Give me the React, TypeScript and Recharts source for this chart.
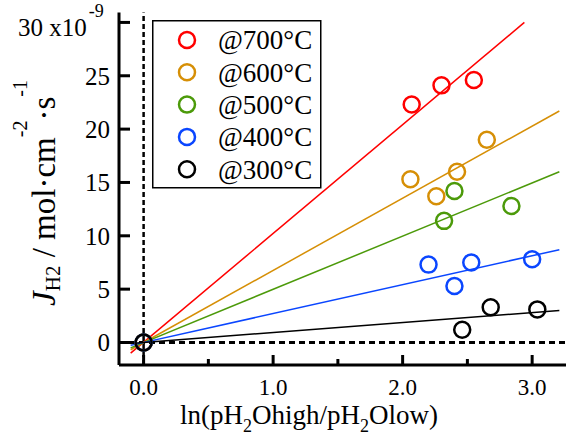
import {
  ComposedChart,
  XAxis,
  YAxis,
  Line,
  Scatter,
  ReferenceLine,
  Legend,
} from "recharts";

const FONT = "'Liberation Serif', 'Times New Roman', 'DejaVu Serif', serif";
const txt = { fontFamily: FONT };

const seriesNames = ["@700°C", "@600°C", "@500°C", "@400°C", "@300°C"];
const seriesColors = ["#ff0000", "#d68f06", "#4c9a0a", "#0a46ff", "#000000"];

// measured points, x = ln(pH2Ohigh/pH2Olow), y = J_H2 (x10^-9)
const x700 = [0, 2.07, 2.3, 2.55];
const y700 = [0, 22.3, 24.1, 24.6];
const x600 = [0, 2.06, 2.26, 2.42, 2.65];
const y600 = [0, 15.3, 13.7, 16.0, 19.0];
const x500 = [0, 2.32, 2.4, 2.84];
const y500 = [0, 11.4, 14.2, 12.8];
const x400 = [0, 2.2, 2.4, 2.53, 3.0];
const y400 = [0, 7.3, 5.3, 7.5, 7.8];
const x300 = [0, 2.46, 2.68, 3.04];
const y300 = [0, 1.2, 3.3, 3.1];

// fitted lines, start and end points
const fitStartX = [-0.1, -0.1, -0.1, -0.1, -0.1];
const fitStartY = [-1.0, -0.68, -0.5, -0.27, -0.09];
const fitEndX = [2.94, 3.21, 3.21, 3.21, 3.21];
const fitEndY = [30.0, 21.7, 16.0, 8.7, 3.0];

const xTicks = [0, 0.5, 1, 1.5, 2, 2.5, 3];
const yTicks = [0, 5, 10, 15, 20, 25, 30];

const pointsX = [x700, x600, x500, x400, x300];
const pointsY = [y700, y600, y500, y400, y300];

const scatterData = pointsX.map((xs, i) =>
  xs.map((x, j) => ({ x, y: pointsY[i][j] }))
);
const fitData = fitStartX.map((_, i) => [
  { x: fitStartX[i], y: fitStartY[i] },
  { x: fitEndX[i], y: fitEndY[i] },
]);

const BottomTick = (props: any) => {
  const { x, y, payload } = props;
  const major = Number.isInteger(payload.value);
  return (
    <g>
      <line x1={x} x2={x} y1={y} y2={y - (major ? 10 : 6)} stroke="#000" strokeWidth={3} />
      {major && (
        <text x={x} y={y + 30} textAnchor="middle" fontSize={23} style={txt} fill="#000">
          {payload.value.toFixed(1)}
        </text>
      )}
    </g>
  );
};

const TopTick = (props: any) => {
  const { x, y, payload } = props;
  const major = Number.isInteger(payload.value);
  return <line x1={x} x2={x} y1={y} y2={y + (major ? 10 : 5)} stroke="#000" strokeWidth={3} />;
};

const LeftTick = (props: any) => {
  const { x, y, payload } = props;
  return (
    <g>
      <line x1={x} x2={x + 11} y1={y} y2={y} stroke="#000" strokeWidth={3} />
      {payload.value === 30 ? (
        <text x={18} y={y + 14} fontSize={25} style={txt} fill="#000">
          30 x10
          <tspan fontSize={18} dy={-19} dx={2}>-9</tspan>
        </text>
      ) : (
        <text x={x - 9} y={y} dy="0.35em" textAnchor="end" fontSize={25} style={txt} fill="#000">
          {payload.value}
        </text>
      )}
    </g>
  );
};

const RightTick = (props: any) => {
  const { x, y } = props;
  return <line x1={x} x2={x - 11} y1={y} y2={y} stroke="#000" strokeWidth={3} />;
};

const XTitle = () => (
  <text x={309} y={424} textAnchor="middle" fontSize={27} style={txt} fill="#000">
    ln(pH
    <tspan fontSize={18} dy={8}>2</tspan>
    <tspan dy={-8}>Ohigh/pH</tspan>
    <tspan fontSize={18} dy={8}>2</tspan>
    <tspan dy={-8}>Olow)</tspan>
  </text>
);

const YTitle = () => (
  <text
    transform="translate(55,193) rotate(-90)"
    x={0}
    y={0}
    textAnchor="middle"
    fontSize={33}
    style={txt}
    fill="#000"
  >
    <tspan fontStyle="italic">J</tspan>
    <tspan fontSize={21} dy={5}>H2</tspan>
    <tspan dy={-5}> / mol·cm</tspan>
    <tspan fontSize={20} dy={-28}>-2</tspan>
    <tspan dy={28}>·s</tspan>
    <tspan fontSize={20} dy={-28}>-1</tspan>
  </text>
);

const LegendBox = () => (
  <svg width={172} height={172}>
    <rect x={0.75} y={0.75} width={168} height={167} fill="#fff" stroke="#000" strokeWidth={1.5} />
    {seriesNames.map((name, i) => (
      <g key={name}>
        <circle cx={35} cy={20 + i * 32.3} r={8} fill="none" stroke={seriesColors[i]} strokeWidth={2.5} />
        <text x={66} y={20 + i * 32.3} dy="0.35em" fontSize={27} style={txt} fill="#000">
          {name}
        </text>
      </g>
    ))}
  </svg>
);

export default function App() {
  return (
    <div style={{ position: "absolute", left: 0, top: 0, background: "#fff" }}>
      <ComposedChart width={566} height={437} margin={{ top: 12.5, right: -5, left: 0, bottom: 0 }}>
        <XAxis
          type="number"
          dataKey="x"
          domain={[-0.19, 3.3]}
          allowDataOverflow
          ticks={xTicks}
          interval={0}
          tickSize={0}
          tickMargin={0}
          tickLine={false}
          tick={<BottomTick />}
          axisLine={{ stroke: "#000", strokeWidth: 3 }}
          height={72}
          label={{ content: () => <XTitle /> }}
        />
        <XAxis
          xAxisId="top"
          orientation="top"
          type="number"
          domain={[-0.19, 3.3]}
          allowDataOverflow
          ticks={xTicks}
          interval={0}
          tickSize={0}
          tickMargin={0}
          tickLine={false}
          tick={<TopTick />}
          axisLine={{ stroke: "#000", strokeWidth: 3 }}
          height={0}
        />
        <YAxis
          type="number"
          domain={[-2.11, 30.93]}
          allowDataOverflow
          ticks={yTicks}
          interval={0}
          tickSize={0}
          tickMargin={0}
          tickLine={false}
          tick={<LeftTick />}
          axisLine={{ stroke: "#000", strokeWidth: 3 }}
          width={119}
          label={{ content: () => <YTitle /> }}
        />
        <YAxis
          yAxisId="right"
          orientation="right"
          type="number"
          domain={[-2.11, 30.93]}
          allowDataOverflow
          ticks={yTicks}
          interval={0}
          tickSize={0}
          tickMargin={0}
          tickLine={false}
          tick={<RightTick />}
          axisLine={{ stroke: "#000", strokeWidth: 3 }}
          width={0}
        />
        <ReferenceLine x={0} stroke="#000" strokeWidth={2.5} strokeDasharray="5 3" />
        <ReferenceLine y={0} stroke="#000" strokeWidth={3} strokeDasharray="6 4" />
        {fitData.map((d, i) => (
          <Line
            key={"fit" + i}
            data={d}
            dataKey="y"
            type="linear"
            stroke={seriesColors[i]}
            strokeWidth={1.5}
            dot={false}
            activeDot={false}
            isAnimationActive={false}
          />
        ))}
        {scatterData.map((d, i) => (
          <Scatter
            key={"pts" + i}
            data={d}
            dataKey="y"
            isAnimationActive={false}
            shape={(p: any) => (
              <circle cx={p.cx} cy={p.cy} r={8} fill="none" stroke={seriesColors[i]} strokeWidth={2.5} />
            )}
          />
        ))}
        <Legend
          layout="horizontal"
          verticalAlign="middle"
          align="center"
          content={() => <LegendBox />}
          wrapperStyle={{ left: 152, top: 20, width: 172, height: 172 }}
        />
      </ComposedChart>
    </div>
  );
}
